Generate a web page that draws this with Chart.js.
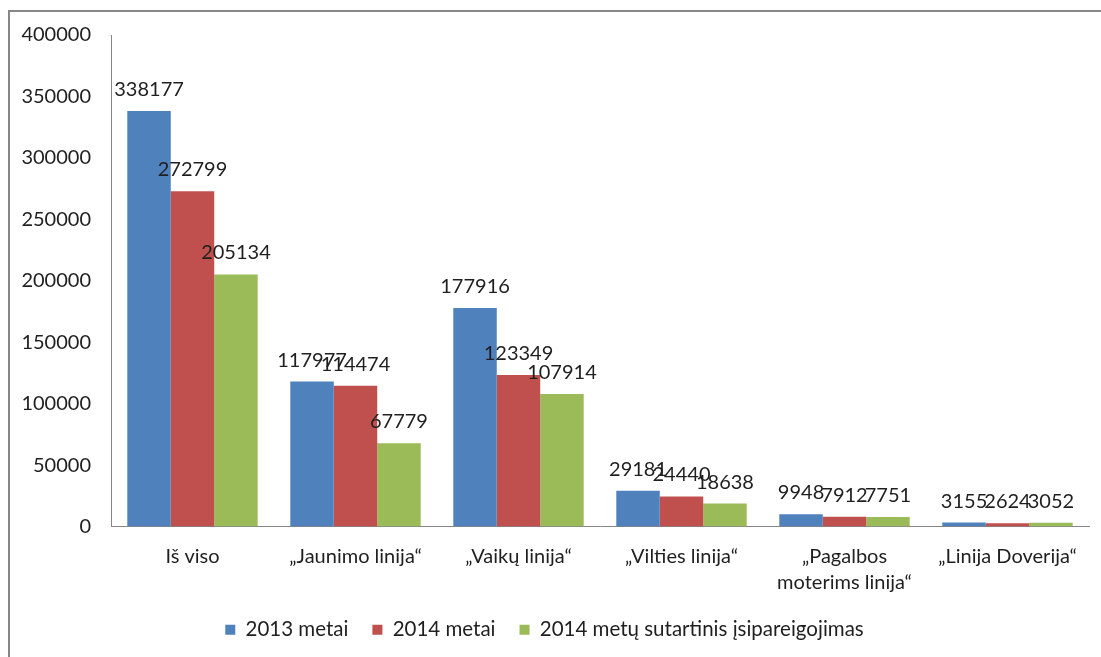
<!DOCTYPE html>
<html>
<head>
<meta charset="utf-8">
<script src="https://cdn.jsdelivr.net/npm/chart.js@4/dist/chart.umd.min.js"></script>
<style>
  html, body { margin: 0; padding: 0; background: #fff; }
  body { width: 1101px; height: 657px; position: relative; overflow: hidden; }
  .frame {
    position: absolute; left: 8px; top: 10px; width: 1200px; height: 800px;
    border-left: 2px solid #878787; border-top: 2px solid #878787;
  }
  .wrap { position: absolute; left: 0; top: 0; width: 1101px; height: 657px; }
</style>
</head>
<body>
<div class="frame"></div>
<div class="wrap"><canvas id="myChart"></canvas></div>
<script>
const categories = [
  "Iš viso",
  "„Jaunimo linija“",
  "„Vaikų linija“",
  "„Vilties linija“",
  ["„Pagalbos", "moterims linija“"],
  "„Linija Doverija“"
]
const series2013 = [338177, 117977, 177916, 29181, 9948, 3155]
const series2014 = [272799, 114474, 123349, 24440, 7912, 2624]
const seriesPromise = [205134, 67779, 107914, 18638, 7751, 3052]
const seriesNames = ["2013 metai", "2014 metai", "2014 metų sutartinis įsipareigojimas"]

const fontFamily = "Lato, 'Open Sans', sans-serif"
const textColor = "#1f1f1f"
const axisColor = "#868686"

// value labels over each bar
const barLabels = {
  id: 'barLabels',
  afterDatasetsDraw(chart) {
    const ctx = chart.ctx
    ctx.save()
    ctx.font = "20px " + fontFamily
    ctx.fillStyle = textColor
    ctx.textAlign = "center"
    ctx.textBaseline = "alphabetic"
    chart.data.datasets.forEach((ds, i) => {
      chart.getDatasetMeta(i).data.forEach((bar, j) => {
        ctx.fillText(String(ds.data[j]), bar.x, bar.y - 15)
      })
    })
    ctx.restore()
  }
}

const ctx = document.getElementById('myChart').getContext("2d")

const myChart = new Chart(ctx, {
  type: 'bar',
  data: {
    labels: categories,
    datasets: [
      { label: seriesNames[0], data: series2013, backgroundColor: "#4F81BD" },
      { label: seriesNames[1], data: series2014, backgroundColor: "#C0504D" },
      { label: seriesNames[2], data: seriesPromise, backgroundColor: "#9BBB59" }
    ]
  },
  options: {
    responsive: true,
    maintainAspectRatio: false,
    animation: false,
    datasets: {
      bar: { categoryPercentage: 0.8, barPercentage: 1.0 }
    },
    layout: {
      padding: { top: 35, right: 12, bottom: 7, left: 0 }
    },
    plugins: {
      tooltip: { enabled: false },
      legend: {
        position: 'bottom',
        labels: {
          boxWidth: 10,
          boxHeight: 10,
          padding: 24,
          color: textColor,
          font: { family: fontFamily, size: 20.5 }
        }
      }
    },
    scales: {
      x: {
        grid: { display: false, drawTicks: false },
        border: { display: true, color: axisColor, width: 1 },
        afterFit(scale) { scale.height = 69 },
        ticks: {
          padding: 17,
          maxRotation: 0,
          autoSkip: false,
          color: textColor,
          font: { family: fontFamily, size: 20, lineHeight: 1.3 }
        }
      },
      y: {
        min: 0,
        max: 400000,
        grid: { display: false, drawTicks: false },
        border: { display: true, color: axisColor, width: 1 },
        afterFit(scale) { scale.width = 111 },
        ticks: {
          stepSize: 50000,
          padding: 20,
          color: textColor,
          font: { family: fontFamily, size: 20 },
          callback: (v) => String(v)
        }
      }
    }
  },
  plugins: [barLabels]
});
</script>
</body>
</html>
